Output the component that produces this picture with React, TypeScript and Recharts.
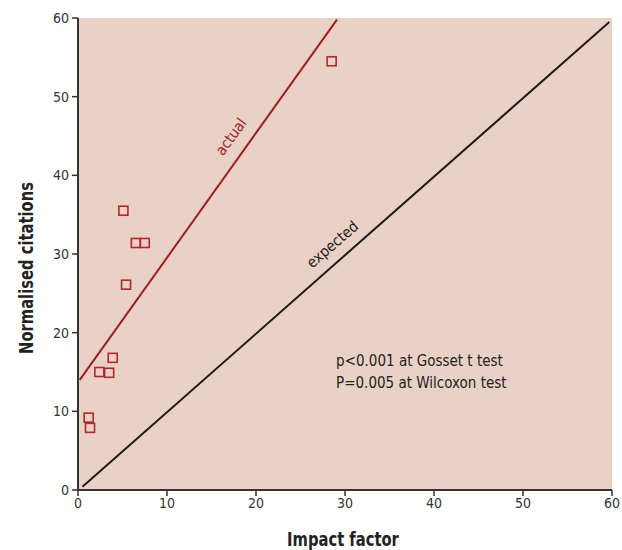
import { ScatterChart, Scatter, XAxis, YAxis, CartesianGrid } from "recharts";

const impactFactor = [5.1, 6.5, 7.5, 5.4, 3.9, 2.4, 3.5, 1.2, 1.35, 28.5];
const citations = [35.5, 31.4, 31.4, 26.1, 16.8, 15.0, 14.9, 9.2, 7.9, 54.5];

const actualX = [0.2, 29.1];
const actualY = [14.0, 59.8];
const expectedX = [0.5, 59.7];
const expectedY = [0.4, 59.5];

const lineLabels = ["actual", "expected"];
const lineLabelX = [17.2, 28.6];
const lineLabelY = [44.9, 31.2];

const statsLines = ["p<0.001 at Gosset t test", "P=0.005 at Wilcoxon test"];
const statsX = 29;
const statsY = [16.4, 13.6];

const ticks = [0, 10, 20, 30, 40, 50, 60];

const FONT = "'DejaVu Sans Condensed', 'DejaVu Sans', sans-serif";
const COND = { fontStretch: "condensed" as const };
const RED = "#9e1d22";
const MARK = "#b0272e";
const BG = "#e9d1c5";

const points = impactFactor.map((x, i) => ({ x, y: citations[i] }));
const actualLine = actualX.map((x, i) => ({ x, y: actualY[i] }));
const expectedLine = expectedX.map((x, i) => ({ x, y: expectedY[i] }));
const labelPts = lineLabels.map((t, i) => ({ x: lineLabelX[i], y: lineLabelY[i], t, i }));
const statsPts = statsLines.map((t, i) => ({ x: statsX, y: statsY[i], t }));

const square = (p: any) => (
  <rect x={p.cx - 4.5} y={p.cy - 4.5} width={9} height={9} fill="none" stroke={MARK} strokeWidth={1.6} />
);

const lineLabel = (p: any) => {
  const angle = p.payload.i === 0 ? -54 : -41;
  const color = p.payload.i === 0 ? RED : "#222";
  return (
    <text x={p.cx} y={p.cy} transform={`rotate(${angle}, ${p.cx}, ${p.cy})`} textAnchor="middle"
      dominantBaseline="central" fontFamily={FONT} style={COND} fontSize={15} fill={color}>
      {p.payload.t}
    </text>
  );
};

const statsLabel = (p: any) => (
  <text x={p.cx} y={p.cy} dominantBaseline="central" fontFamily={FONT} style={COND} fontSize={15} fill="#222">
    {p.payload.t}
  </text>
);

const none = () => <g />;

export default function App() {
  const tick = { fontFamily: FONT, fontSize: 14, fill: "#333", style: COND };
  return (
    <div style={{ position: "absolute", left: 0, top: 0, background: "#fff" }}>
      <ScatterChart width={622} height={550} margin={{ top: 18, right: 10, bottom: 0, left: 0 }}>
        <CartesianGrid fill={BG} horizontal={false} vertical={false} stroke="none" />
        <XAxis type="number" dataKey="x" domain={[0, 60]} ticks={ticks} height={60}
          axisLine={{ stroke: "#333", strokeWidth: 2 }} tickLine={{ stroke: "#333", strokeWidth: 1.5 }}
          tickSize={6} tick={tick} tickMargin={2} allowDataOverflow
          label={{
            content: ({ viewBox }: any) => (
              <text transform={`translate(${viewBox.x + viewBox.width / 2 - 2}, 546) scale(0.82, 1)`}
                textAnchor="middle" fontFamily={FONT} style={COND}
                fontWeight="bold" fontSize={20} fill="#222">Impact factor</text>
            ),
          }} />
        <YAxis type="number" dataKey="y" domain={[0, 60]} ticks={ticks} width={78}
          axisLine={{ stroke: "#333", strokeWidth: 2 }} tickLine={{ stroke: "#333", strokeWidth: 1.5 }}
          tickSize={6} tick={tick} tickMargin={3} allowDataOverflow
          label={{
            content: () => (
              <text transform="translate(26, 268) rotate(-90) scale(0.82, 1)" textAnchor="middle"
                dominantBaseline="central" fontFamily={FONT} style={COND} fontWeight="bold" fontSize={20} fill="#222">
                Normalised citations
              </text>
            ),
          }} />
        <Scatter data={expectedLine} line={{ stroke: "#1a1a1a", strokeWidth: 2 }} shape={none} isAnimationActive={false} />
        <Scatter data={actualLine} line={{ stroke: RED, strokeWidth: 2 }} shape={none} isAnimationActive={false} />
        <Scatter data={points} shape={square} isAnimationActive={false} />
        <Scatter data={labelPts} shape={lineLabel} isAnimationActive={false} />
        <Scatter data={statsPts} shape={statsLabel} isAnimationActive={false} />
      </ScatterChart>
    </div>
  );
}
